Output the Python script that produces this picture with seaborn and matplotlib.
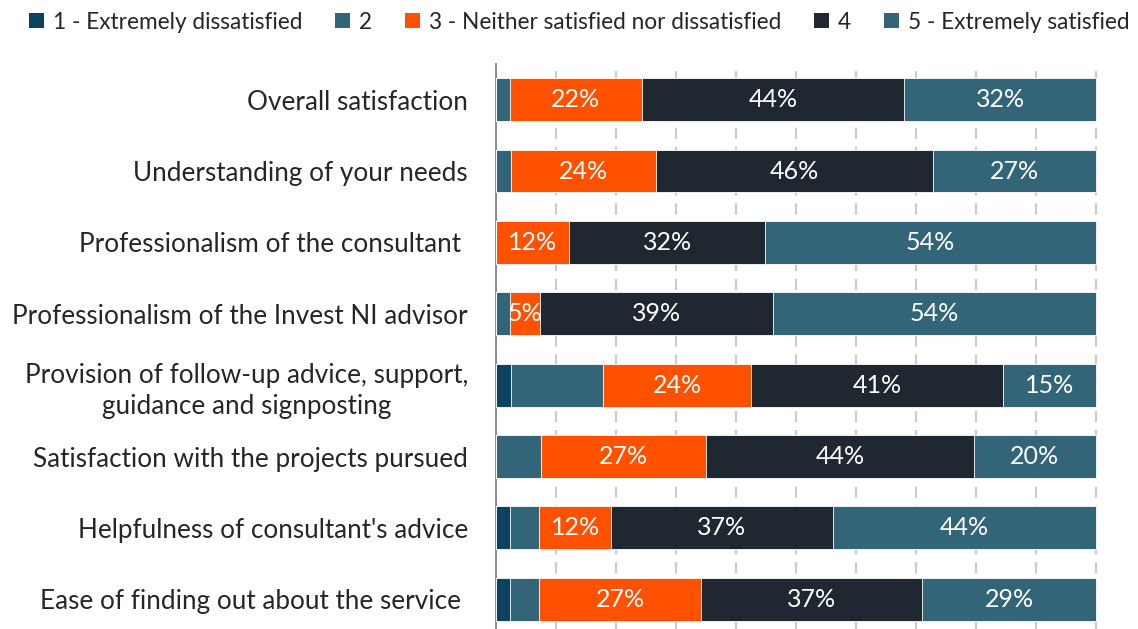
import numpy as np
import pandas as pd
import matplotlib
matplotlib.use("Agg")
import matplotlib.pyplot as plt
import seaborn as sns
from matplotlib.patches import Patch

# categories (top to bottom) and the five answer series, in percent
categories = [
    "Overall satisfaction",
    "Understanding of your needs",
    "Professionalism of the consultant ",
    "Professionalism of the Invest NI advisor",
    "Provision of follow-up advice, support,\nguidance and signposting",
    "Satisfaction with the projects pursued",
    "Helpfulness of consultant's advice",
    "Ease of finding out about the service ",
]
series_names = ["1 - Extremely dissatisfied", "2",
                "3 - Neither satisfied nor dissatisfied", "4",
                "5 - Extremely satisfied"]
s1 = [0, 0, 0, 0, 2.5, 0, 2.4, 2.4]
s2 = [2.4, 2.5, 0, 2.4, 15, 7.5, 4.9, 4.9]
s3 = [22, 24, 12, 5, 24, 27, 12, 27]
s4 = [44, 46, 32, 39, 41, 44, 37, 37]
s5 = [32, 27, 54, 54, 15, 20, 44, 29]
colors = ["#0b4260", "#336579", "#ff5100", "#1f2831", "#336579"]

sns.set_style("white")
plt.rcParams["font.family"] = ["Lato", "DejaVu Sans"]

#100% stacked: normalise each row
raw = np.array([s1, s2, s3, s4, s5], dtype=float).T
pct = raw / raw.sum(axis=1, keepdims=True) * 100
cum = pct.cumsum(axis=1)

fig = plt.figure(figsize=(11.38, 6.29), dpi=100)
ax = fig.add_axes([0.4356, -0.0095, 0.5299, 0.9078])

# draw cumulative totals from the right so each series sits on top of the previous
for k in range(4, -1, -1):
    df = pd.DataFrame({"cat": categories, "val": cum[:, k]})
    sns.barplot(data=df, x="val", y="cat", orient="h", color=colors[k],
                saturation=1, width=0.6, edgecolor="white", linewidth=0.6,
                ax=ax, zorder=3)

# value labels for series 3, 4, 5
for k in range(2, 5):
    for i in range(len(categories)):
        if raw[i, k] > 0:
            ax.text(cum[i, k] - pct[i, k] / 2, i, f"{raw[i, k]:.0f}%",
                    ha="center", va="center", color="white", fontsize=18,
                    zorder=4)

ax.set_xlim(0, 100.5)
ax.set_ylim(7.5, -0.5)
ax.set_xticks(np.arange(10, 101, 10))
ax.set_xticklabels([])
ax.grid(axis="x", color="#c9cdd2", linestyle=(0, (5, 3.5)), linewidth=1.6, zorder=0)
ax.set_axisbelow(True)
ax.set_xlabel("")
ax.set_ylabel("")
for side in ["top", "right", "bottom"]:
    ax.spines[side].set_visible(False)
ax.spines["left"].set_color("#7f7f7f")
ax.spines["left"].set_linewidth(1.3)
ax.tick_params(axis="y", length=0, pad=20, labelsize=18.8)
ax.tick_params(axis="x", length=0)
for lab in ax.get_yticklabels():
    lab.set_multialignment("center")
    lab.set_linespacing(1.3)

handles = [Patch(facecolor=c, edgecolor="none") for c in colors]
fig.legend(handles, series_names, loc="upper center", ncol=5, frameon=False,
           bbox_to_anchor=(0.509, 1.014), fontsize=16.3, handlelength=0.65,
           handleheight=0.65, handletextpad=0.4, columnspacing=1.45)

fig.savefig("out.png", dpi=100)
